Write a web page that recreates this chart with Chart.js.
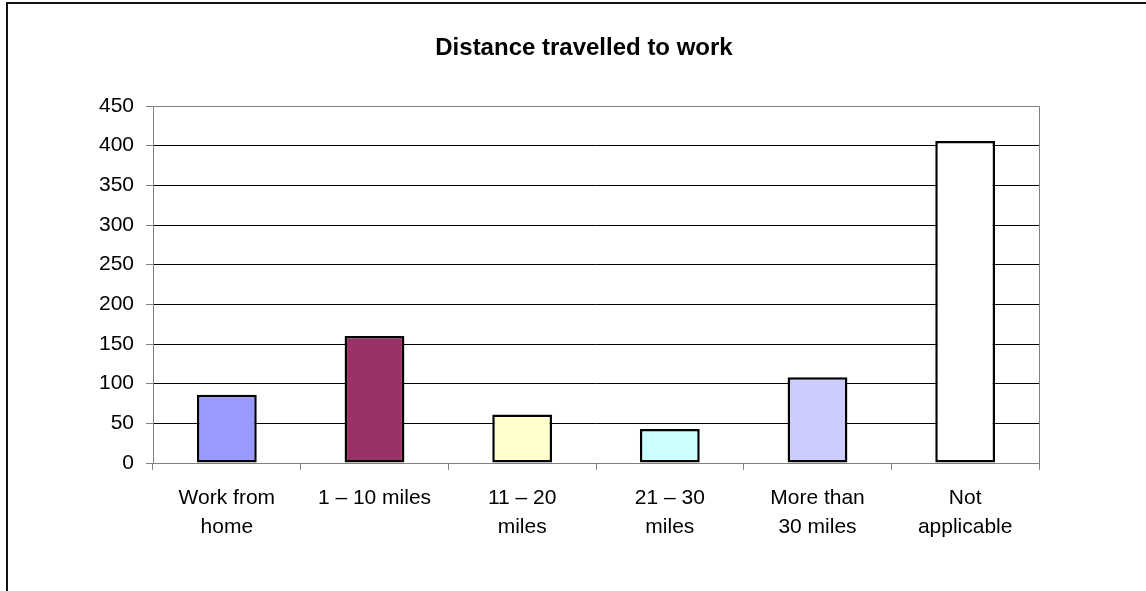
<!DOCTYPE html>
<html>
<head>
<meta charset="utf-8">
<script src="https://cdn.jsdelivr.net/npm/chart.js@4/dist/chart.umd.min.js"></script>
<style>
  html, body { margin: 0; padding: 0; background: #fff; }
  #wrap { position: relative; width: 1146px; height: 591px; overflow: hidden; }
  #frame { position: absolute; left: 6px; top: 2px; width: 1200px; height: 700px;
           border-top: 2px solid #111; border-left: 2px solid #111; }
  canvas { position: absolute; left: 0; top: 0; }
</style>
</head>
<body>
<div id="wrap">
  <div id="frame"></div>
  <canvas id="barChart" width="1146" height="591"></canvas>
</div>
<script>
const chartTitle = 'Distance travelled to work';
const categories = [
    ['Work from', 'home'],
    '1 – 10 miles',
    ['11 – 20', 'miles'],
    ['21 – 30', 'miles'],
    ['More than', '30 miles'],
    ['Not', 'applicable'],
];
const values = [86, 160, 61, 43, 108, 406];
const barColors = ['#9999FF', '#993366', '#FFFFCC', '#CCFFFF', '#CCCCFF', '#FFFFFF'];
const yTicks = [0, 50, 100, 150, 200, 250, 300, 350, 400, 450];

const font = 'Liberation Sans, Arial, sans-serif';

// title + grey frame on top/right of plot area, like the Excel original
const excelBits = {
    id: 'excelBits',
    afterDraw(chart) {
        const { ctx, chartArea: a } = chart;
        ctx.save();
        ctx.strokeStyle = '#808080';
        ctx.lineWidth = 1;
        ctx.beginPath();
        ctx.moveTo(a.left, a.top + 0.5);
        ctx.lineTo(a.right + 0.5, a.top + 0.5);
        ctx.lineTo(a.right + 0.5, a.bottom + 7);
        ctx.stroke();
        ctx.fillStyle = '#000';
        ctx.font = 'bold 24px ' + font;
        ctx.textAlign = 'center';
        ctx.textBaseline = 'alphabetic';
        ctx.fillText(chartTitle, 584, 55);
        ctx.restore();
    }
};

new Chart(document.getElementById('barChart').getContext('2d'), {
    type: 'bar',
    data: {
        labels: categories,
        datasets: [{
            data: values,
            backgroundColor: barColors,
            borderColor: '#000',
            borderWidth: 2.5,
            borderSkipped: false,
            categoryPercentage: 1,
            barPercentage: 0.405,
        }],
    },
    options: {
        responsive: false,
        animation: false,
        layout: { padding: { left: 83, right: 107, top: 106, bottom: 0 } },
        plugins: {
            legend: { display: false },
            title: { display: false },
            tooltip: { enabled: false },
        },
        scales: {
            x: {
                afterFit: (s) => { s.height = 128; },
                grid: {
                    offset: true,
                    drawOnChartArea: false,
                    drawTicks: true,
                    tickLength: 7,
                    color: '#808080',
                },
                border: { color: '#808080', width: 1 },
                ticks: {
                    color: '#000',
                    font: { family: font, size: 21, lineHeight: 1.38 },
                    padding: 14,
                    maxRotation: 0,
                    autoSkip: false,
                },
            },
            y: {
                min: 0,
                max: 450,
                afterFit: (s) => { s.width = 70; },
                afterBuildTicks: (s) => { s.ticks = yTicks.map(v => ({ value: v })); },
                grid: {
                    color: (c) => (c.tick && c.tick.value === 450 ? '#808080' : '#000'),
                    tickColor: '#808080',
                    tickLength: 7,
                },
                border: { color: '#808080', width: 1 },
                ticks: {
                    color: '#000',
                    font: { family: font, size: 21 },
                    padding: 12,
                },
            },
        },
    },
    plugins: [excelBits],
});
</script>
</body>
</html>
